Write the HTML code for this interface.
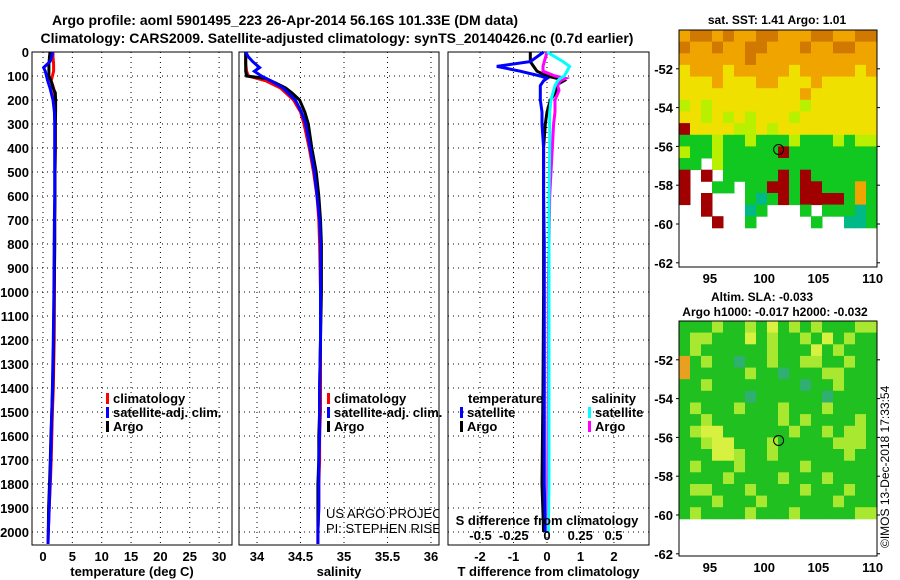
<!DOCTYPE html>
<html><head><meta charset="utf-8">
<style>
html,body{margin:0;padding:0;background:#fff;}
svg{display:block;font-family:"Liberation Sans",sans-serif;}
.b{font-weight:bold;font-size:13px;}
</style></head>
<body>
<svg id="fig" width="900" height="580" viewBox="0 0 900 580" xmlns="http://www.w3.org/2000/svg">
<text x="285" y="25" text-anchor="middle" class="b" style="font-size:14px">Argo profile: aoml 5901495_223 26-Apr-2014 56.16S 101.33E (DM data)</text>
<text x="337" y="43" text-anchor="middle" class="b" style="font-size:14px">Climatology: CARS2009. Satellite-adjusted climatology: synTS_20140426.nc (0.7d earlier)</text>
<text x="777" y="24" text-anchor="middle" class="b" style="font-size:12px">sat. SST: 1.41 Argo: 1.01</text>
<text x="762" y="301" text-anchor="middle" class="b" style="font-size:12px">Altim. SLA: -0.033</text>
<text x="775" y="316" text-anchor="middle" class="b" style="font-size:12px">Argo h1000: -0.017 h2000: -0.032</text>
<text x="0" y="0" transform="translate(889,548) rotate(-90)" style="font-size:12px">©IMOS 13-Dec-2018 17:33:54</text>
<g id="plots"></g>
</svg>
<script>
// ---- data ----
const depthTicks=[0,100,200,300,400,500,600,700,800,900,1000,1100,1200,1300,1400,1500,1600,1700,1800,1900,2000];
const tTicks=[0,5,10,15,20,25,30];
const sTicks=[34,34.5,35,35.5,36];
const tdTicks=[-2,-1,0,1,2];
const sdTicks=[-0.5,-0.25,0,0.25,0.5];
const sdTickLabels=["-0.5","-0.25","0","0.25","0.5"];
const latTicks=[-52,-54,-56,-58,-60,-62];
const lonTicks=[95,100,105,110];

const zClim=[0,20,50,80,100,120,150,200,250,300,400,500,600,700,800,1000,1200,1400,1500,1600,1700,1800,1900,2000,2050];
const tClim=[1.7,1.7,1.8,1.8,1.6,1.4,1.8,2.1,2.1,2.1,2.1,2.05,2.05,2.0,2.0,1.95,1.9,1.75,1.6,1.5,1.4,1.25,1.05,0.9,0.85];
const sClim=[33.87,33.87,33.87,33.88,33.9,34.1,34.27,34.42,34.5,34.54,34.6,34.65,34.69,34.71,34.72,34.73,34.73,34.73,34.73,34.72,34.72,34.71,34.71,34.70,34.70];

const zSat=[0,20,40,65,80,100,120,150,200,250,300,400,500,600,700,800,1000,1200,1400,1500,1600,1700,1800,1900,2000,2050];
const tSat=[1.6,1.5,1.2,0.1,0.4,0.6,0.8,1.2,1.7,1.95,2.0,2.0,2.0,2.0,1.95,1.9,1.85,1.75,1.6,1.5,1.4,1.3,1.2,1.05,0.9,0.85];
const sSat=[33.87,33.9,33.95,34.03,33.97,34.05,34.16,34.3,34.44,34.51,34.56,34.61,34.66,34.69,34.72,34.73,34.73,34.73,34.72,34.72,34.72,34.71,34.71,34.71,34.70,34.70];

const zArgo=[0,20,50,80,100,110,130,150,170,200,250,300,400,500,600,700,800,1000,1200,1400,1500,1600,1700,1800,1900,2000];
const tArgo=[1.2,1.1,1.0,1.0,1.0,1.2,1.5,1.7,2.1,2.15,2.15,2.1,2.1,2.05,2.05,2.0,2.0,1.9,1.8,1.65,1.5,1.35,1.25,1.1,0.95,0.9];
const sArgo=[33.87,33.87,33.87,33.87,33.88,34.1,34.22,34.33,34.4,34.49,34.55,34.59,34.63,34.68,34.71,34.73,34.74,34.74,34.73,34.72,34.72,34.71,34.71,34.70,34.70,34.70];

const zDiff=[0,20,40,60,80,100,110,120,140,160,200,250,300,400,600,800,1000,1400,1800,2000];
const dTsat=[-0.1,-0.3,-0.5,-1.5,-0.8,-0.2,0.0,-0.1,-0.2,-0.2,-0.2,-0.15,-0.15,-0.1,-0.1,-0.08,-0.08,-0.08,-0.08,-0.05];
const dTargo=[-0.5,-0.5,-0.5,-0.4,-0.3,0.0,0.3,0.5,0.25,0.3,0.1,0.0,-0.05,-0.1,-0.1,-0.1,-0.1,-0.12,-0.15,-0.1];
const dSsat=[0.0,0.06,0.12,0.17,0.15,0.13,0.1,0.08,0.06,0.05,0.03,0.02,0.02,0.02,0.015,0.015,0.015,0.015,0.015,0.01];
const dSargo=[0.0,-0.01,-0.02,-0.03,-0.03,0.06,0.14,0.1,0.08,0.09,0.06,0.06,0.05,0.04,0.02,0.015,0.01,0.01,0.005,0.005];

// map codes: o orange, r brown, y yellow, l lime, g green, c teal, m maroon, . white
const sstRows=[
"orroroorrooorroorr",
"rooroorroooroorroo",
"oooooorooooooooooo",
"yoooyoooooyoooooyo",
"yyyoyyyooyyyoyyyyy",
"yyyyyyyyyyyoyyyyyy",
"lylyyyyyyyylyyyyyy",
"yylylylyyylyyyyyyy",
"myyyyllylyyyyyyyyy",
"ggglgglggglggglgll",
"lgglgggggmgggggggg",
"gg.lgggggggggggggg",
"m.m.gggggmgmgggggg",
"m..gg.ggmmgmmgggog",
"m.m...gcgmgmmmmgog",
"..m...cg...g.gggcg",
"...m..g.....g..ccg",
"..................",
"..................",
".................."];
const slaRows=[
"ggglgglgyglglgggll",
"gllgggyglgglgyglgg",
"glgggggglgggyglggg",
"oglggtgglggllgglgg",
"oggggglggtgggllggg",
"gglggggggggtgglggg",
"ggggggtggggggtgggg",
"glggglggglggglgggg",
"gglgggggglglgggglg",
"glyygggggglgglgllg",
"gglyyggglggggglllg",
"gggyylgglgggggglgg",
"glggglggggglgggggg",
"gggglgggglggglgggg",
"gllggglgggglggglgg",
"ggglggglgggggglggg",
"glgggglggglgggggll"];

// ---- drawing ----
const NS="http://www.w3.org/2000/svg";
const root=document.getElementById('plots');
function el(tag,attrs,parent){const e=document.createElementNS(NS,tag);for(const k in attrs)e.setAttribute(k,attrs[k]);(parent||root).appendChild(e);return e;}
const Y0=52,YPX=0.24,YBOT=545;
const yD=d=>Y0+d*YPX;
const xT=t=>43+t*5.87;
const xS=s=>257+(s-34)*87;
const xTd=t=>547+t*33.5;
const xSd=s=>547+s*133;

function panel(name,x0,x1,xTicksV,xf,labels,xlabel,showY){
  const g=el('g',{});
  
  
  const cp=el('clipPath',{id:'cp-'+name},g);
  el('rect',{x:x0,y:Y0-18,width:x1-x0,height:YBOT-Y0+18},cp);
  depthTicks.forEach(d=>{
    const l=el('line',{x1:x0,x2:x1,y1:yD(d),y2:yD(d),stroke:'#000','stroke-width':1,'stroke-dasharray':'1,4'},g);
    
    
    if(showY){
      const t=el('text',{x:x0-3,y:yD(d)+5,'text-anchor':'end',class:'b'},g);
      t.textContent=d;
      
      
    }
  });
  xTicksV.forEach((v,i)=>{
    const l=el('line',{x1:xf(v),x2:xf(v),y1:Y0,y2:YBOT,stroke:'#000','stroke-width':1,'stroke-dasharray':'1,4'},g);
    
    
    const t=el('text',{x:xf(v),y:561,'text-anchor':'middle',class:'b'},g);
    t.textContent=labels[i];
    
    
  });
  const r=el('rect',{x:x0,y:Y0,width:x1-x0,height:YBOT-Y0,fill:'none',stroke:'#000','stroke-width':1},g);
  
  
  const xl=el('text',{x:(x0+x1)/2,y:576,'text-anchor':'middle',class:'b'},g);
  xl.textContent=xlabel;
  
  
  return g;
}
function line(g,name,xs,zs,xf,color,clip){
  const pts=xs.map((v,i)=>xf(v).toFixed(1)+','+yD(zs[i]).toFixed(1)).join(' ');
  const p=el('polyline',{points:pts,fill:'none',stroke:color,'stroke-width':3,'clip-path':'url(#cp-'+clip+')'},g);
  
  
}
function legend(g,x,y,color,text,name){
  const r=el('rect',{x:x,y:y-10,width:3,height:11,fill:color},g);
  
  
  const t=el('text',{x:x+7,y:y,class:'b'},g);
  t.textContent=text;
  
  
}

const gT=panel('temperature-panel',32,232,tTicks,xT,tTicks.map(String),'temperature (deg C)',true);
line(gT,'temperature-climatology-line',tClim,zClim,xT,'#f00','temperature-panel');
line(gT,'temperature-argo-line',tArgo,zArgo,xT,'#000','temperature-panel');
line(gT,'temperature-satellite-line',tSat,zSat,xT,'#00f','temperature-panel');
legend(gT,106,403,'#f00','climatology','legend-climatology');
legend(gT,106,417,'#00f','satellite-adj. clim.','legend-satellite');
legend(gT,106,431,'#000','Argo','legend-argo');

const gS=panel('salinity-panel',239,439,sTicks,xS,sTicks.map(String),'salinity',false);
line(gS,'salinity-climatology-line',sClim,zClim,xS,'#f00','salinity-panel');
line(gS,'salinity-argo-line',sArgo,zArgo,xS,'#000','salinity-panel');
line(gS,'salinity-satellite-line',sSat,zSat,xS,'#00f','salinity-panel');
legend(gS,327,403,'#f00','climatology','legend-s-climatology');
legend(gS,327,417,'#00f','satellite-adj. clim.','legend-s-satellite');
legend(gS,327,431,'#000','Argo','legend-s-argo');
const cpS=el('g',{'clip-path':'url(#cp-salinity-panel)'},gS);
const pr1=el('text',{x:326,y:518,style:'font-size:13px'},cpS);pr1.textContent='US ARGO PROJECT';


const pr2=el('text',{x:326,y:533,style:'font-size:13px'},cpS);pr2.textContent='PI: STEPHEN RISER';



const gD=panel('difference-panel',448,649,tdTicks,xTd,tdTicks.map(String),'T difference from climatology',false);
line(gD,'t-diff-argo-line',dTargo,zDiff,xTd,'#000','difference-panel');
line(gD,'t-diff-satellite-line',dTsat,zDiff,xTd,'#00f','difference-panel');
line(gD,'s-diff-argo-line',dSargo,zDiff,xSd,'#f0f','difference-panel');
line(gD,'s-diff-satellite-line',dSsat,zDiff,xSd,'#0ff','difference-panel');
const lt=el('text',{x:468,y:403,class:'b'},gD);lt.textContent='temperature';


const ls=el('text',{x:636,y:403,'text-anchor':'end',class:'b'},gD);ls.textContent='salinity';


legend(gD,460,417,'#00f','satellite','legend-t-satellite');
legend(gD,460,431,'#000','Argo','legend-t-argo');
legend(gD,588,417,'#0ff','satellite','legend-s-diff-satellite');
legend(gD,588,431,'#f0f','Argo','legend-s-diff-argo');
const sdt=el('text',{x:547,y:525,'text-anchor':'middle',class:'b'},gD);sdt.textContent='S difference from climatology';


sdTicks.forEach((v,i)=>{
  const t=el('text',{x:xSd(v),y:540,'text-anchor':'middle',class:'b'},gD);
  t.textContent=sdTickLabels[i];
  
  
});

const cols={o:'#f0a400',r:'#d07800',y:'#f0e000',l:'#b8f000',g:'#10c820',c:'#00b888',m:'#a00000','.':'#ffffff',t:'#30b060'};
const LON0=92.15,LON1=110.4,LAT0=-50.0,MX0=679,MX1=877,LPX=19.4;
const xL=lon=>MX0+(lon-LON0)*(MX1-MX0)/(LON1-LON0);
function map(name,top,bottom,rows,latStep,pal){
  const g=el('g',{});
  
  
  const yL=lat=>top+(LAT0-lat)*LPX;
  const nc=rows[0].length,cw=(MX1-MX0)/nc;
  rows.forEach((row,ri)=>{
    for(let ci=0;ci<nc;ci++){
      const c=row[ci];
      if(c==='.')continue;
      const y=yL(LAT0-ri*latStep);
      const r=el('rect',{x:(MX0+ci*cw).toFixed(1),y:y.toFixed(1),width:(cw+0.5).toFixed(1),height:(latStep*LPX+0.5).toFixed(1),fill:pal[c]},g);
      
      
    }
  });
  const fr=el('rect',{x:MX0,y:top,width:MX1-MX0,height:bottom-top,fill:'none',stroke:'#000'},g);
  
  
  latTicks.forEach(l=>{
    const t=el('text',{x:MX0-6,y:yL(l)+5,'text-anchor':'end',class:'b'},g);
    t.textContent=l;
    
    
    el('line',{x1:MX0,x2:MX0-3,y1:yL(l),y2:yL(l),stroke:'#000'},g);
    el('line',{x1:MX1,x2:MX1+3,y1:yL(l),y2:yL(l),stroke:'#000'},g);
  });
  lonTicks.forEach(l=>{
    const t=el('text',{x:xL(l),y:bottom+16,'text-anchor':'middle',class:'b'},g);
    t.textContent=l;
    
    
  });
  const c=el('circle',{cx:xL(101.33),cy:yL(-56.16),r:5,fill:'none',stroke:'#000','stroke-width':1},g);
  
  
}
map('sst-map',30,267,sstRows,0.6,cols);
const slaCols={o:'#e8a020',y:'#d8f040',l:'#a8e830',g:'#20c020',t:'#30b070','.':'#ffffff'};
map('sla-map',321,556,slaRows,0.6,slaCols);
</script>
</body></html>
